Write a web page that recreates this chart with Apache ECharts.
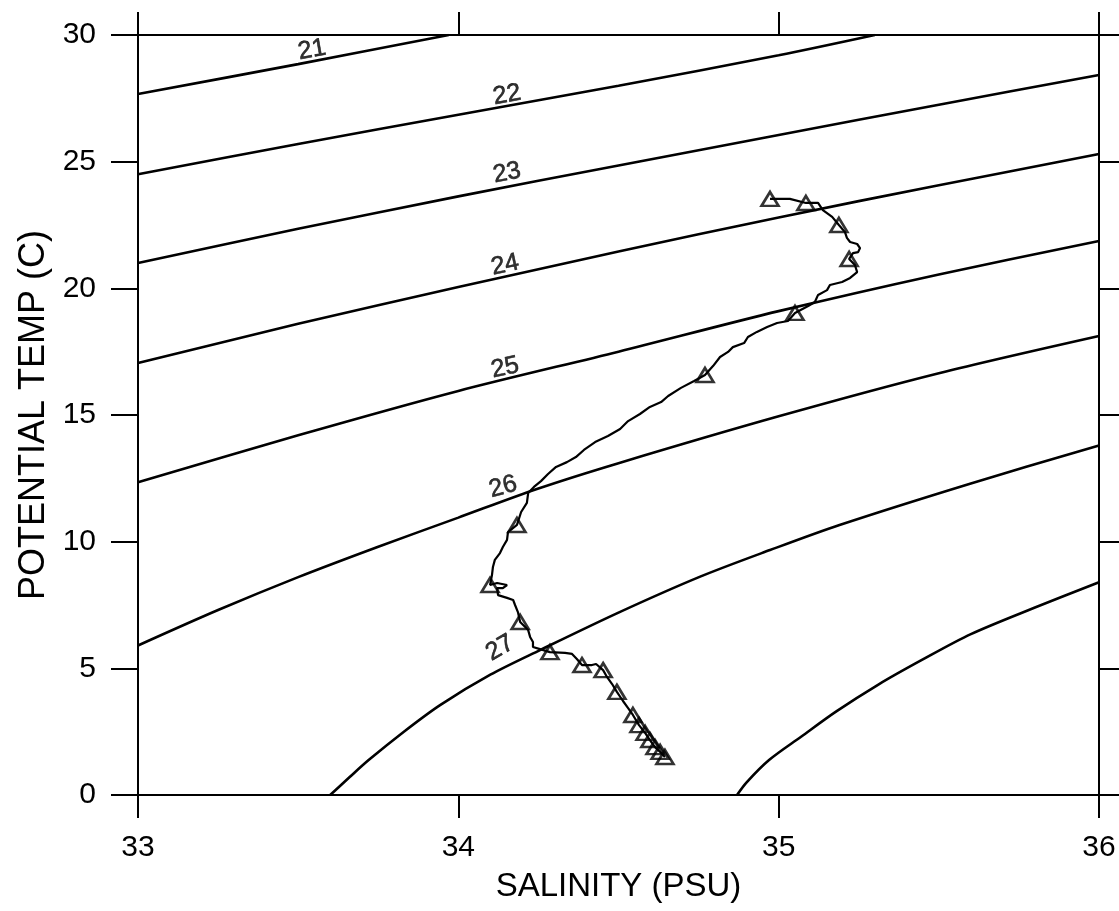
<!DOCTYPE html>
<html>
<head>
<meta charset="utf-8">
<title>Potential temperature - salinity</title>
<script src="https://cdn.jsdelivr.net/npm/echarts@6/dist/echarts.min.js"></script>
<style>
  html, body { margin: 0; padding: 0; background: #fff; }
  #chart { width: 1119px; height: 911px; }
</style>
</head>
<body>
<div id="chart"></div>
<script>
  // axis ticks
  const salinityTicks = [33, 34, 35, 36]
  const tempTicks = [0, 5, 10, 15, 20, 25, 30]

  // sigma-theta lines, [salinity, temp]
  const sigma21 = [[33, 27.67], [33.5, 28.85], [33.97, 30]]
  const sigma22 = [[33, 24.5], [33.5, 25.7], [34, 26.85], [34.5, 28.0], [35, 29.2], [35.3, 30]]
  const sigma23 = [[33, 21.0], [33.5, 22.35], [34, 23.63], [34.5, 24.85], [35, 26.05], [35.5, 27.25], [36, 28.42]]
  const sigma24 = [[33, 17.05], [33.5, 18.6], [34, 20.05], [34.5, 21.45], [35, 22.8], [35.5, 24.07], [36, 25.3]]
  const sigma25 = [[33, 12.35], [33.5, 14.2], [34, 15.95], [34.5, 17.5], [35, 19.1], [35.5, 20.55], [36, 21.87]]
  const sigma26 = [[33, 5.9], [33.25, 7.3], [33.5, 8.6], [33.75, 9.8], [34, 10.95], [34.25, 12.1], [34.5, 13.1],
                   [35, 14.95], [35.5, 16.65], [36, 18.12]]
  const sigma27 = [[33.6, 0], [33.66, 0.7], [33.72, 1.38], [33.83, 2.5], [33.943, 3.55], [34.1, 4.75], [34.255, 5.72],
                   [34.5, 7.2], [34.755, 8.62], [34.973, 9.67], [35.19, 10.66], [35.6, 12.3], [36, 13.8]]
  const sigma28 = [[34.87, 0], [34.9, 0.5], [34.97, 1.38], [35.07, 2.3], [35.18, 3.3], [35.31, 4.35],
                   [35.45, 5.35], [35.6, 6.35], [35.8, 7.4], [36, 8.4]]
  const contours = [sigma21, sigma22, sigma23, sigma24, sigma25, sigma26, sigma27, sigma28]

  // contour labels (no label on 28)
  const labelNames = ['21', '22', '23', '24', '25', '26', '27']
  const labelPoints = [[33.543, 29.41], [34.152, 27.63], [34.152, 24.55], [34.146, 20.92],
                       [34.146, 16.86], [34.14, 12.16], [34.13, 5.8]]

  // the station profile
  const profile = [
    [34.973, 23.53], [35.035, 23.53], [35.085, 23.37], [35.123, 23.37], [35.138, 23.09], [35.167, 22.82],
    [35.188, 22.50], [35.207, 22.22], [35.213, 21.99], [35.223, 21.83], [35.245, 21.75], [35.254, 21.59],
    [35.248, 21.43], [35.232, 21.39], [35.220, 21.16], [35.238, 20.92], [35.245, 20.64], [35.223, 20.41],
    [35.198, 20.25], [35.160, 20.13], [35.151, 19.93], [35.123, 19.74], [35.113, 19.46], [35.092, 19.30],
    [35.051, 19.03], [35.029, 18.71], [34.995, 18.63], [34.964, 18.47], [34.932, 18.28], [34.904, 18.08],
    [34.892, 17.84], [34.857, 17.68], [34.842, 17.49], [34.817, 17.29], [34.795, 16.93], [34.770, 16.58],
    [34.736, 16.34], [34.695, 16.07], [34.655, 15.75], [34.633, 15.51], [34.598, 15.32], [34.567, 15.04],
    [34.530, 14.76], [34.505, 14.45], [34.467, 14.17], [34.427, 13.93], [34.392, 13.62], [34.367, 13.34],
    [34.339, 13.14], [34.305, 12.95], [34.280, 12.67], [34.258, 12.39], [34.236, 12.16], [34.218, 11.92],
    [34.214, 11.53], [34.196, 11.17], [34.183, 10.66], [34.155, 10.38], [34.152, 10.07], [34.139, 9.79],
    [34.130, 9.55], [34.114, 9.28], [34.108, 9.00], [34.105, 8.68], [34.099, 8.29], [34.121, 8.37],
    [34.152, 8.29], [34.139, 8.17], [34.121, 8.17], [34.124, 7.89], [34.152, 7.78], [34.171, 7.70],
    [34.177, 7.50], [34.186, 7.22], [34.193, 6.83], [34.218, 6.51], [34.224, 6.24], [34.233, 6.04],
    [34.233, 5.84], [34.255, 5.76], [34.286, 5.64], [34.333, 5.61], [34.355, 5.57], [34.370, 5.37],
    [34.386, 5.13], [34.417, 5.13], [34.430, 5.17], [34.452, 4.93], [34.464, 4.66], [34.480, 4.38],
    [34.495, 4.07], [34.514, 3.71], [34.530, 3.43], [34.545, 3.16], [34.564, 2.76], [34.583, 2.45],
    [34.598, 2.17], [34.614, 1.89], [34.630, 1.70], [34.645, 1.50]
  ]

  // triangle marks along the profile
  const marks = [
    [34.973, 23.53], [35.085, 23.37], [35.188, 22.50], [35.220, 21.16], [35.051, 19.03], [34.770, 16.58],
    [34.183, 10.66], [34.099, 8.29], [34.193, 6.83], [34.286, 5.64], [34.386, 5.13], [34.452, 4.93],
    [34.495, 4.07], [34.545, 3.16], [34.564, 2.76], [34.583, 2.45], [34.598, 2.17], [34.614, 1.89],
    [34.630, 1.70], [34.645, 1.50]
  ]

  const FONT = '"Liberation Sans", Arial, Helvetica, sans-serif'
  // label tilt, roughly along each line
  const labelRotate = [10, 10, 11, 12, 12, 15, 30]

  const chart = echarts.init(document.getElementById('chart'), null, { renderer: 'canvas' })

  const axisCommon = {
    type: 'value',
    splitLine: { show: false },
    axisLine: { show: true, onZero: false, lineStyle: { color: '#000', width: 2 } },
    axisTick: { show: true, inside: false, lineStyle: { color: '#000', width: 2 } }
  }

  const series = contours.map((pts, i) => ({
    type: 'line',
    name: 'sigma' + (21 + i),
    data: pts,
    showSymbol: false,
    symbol: 'none',
    smooth: 0.3,
    silent: true,
    lineStyle: { color: '#000', width: 2.6 },
    z: 2
  }))

  // 等密度线标注
  series.push({
    type: 'scatter',
    data: labelNames.map((n, i) => ({ name: n, value: labelPoints[i], label: { rotate: labelRotate[i] } })),
    symbolSize: 1,
    itemStyle: { color: 'rgba(0,0,0,0)' },
    label: {
      show: true, position: 'inside', formatter: '{b}', fontSize: 25, color: '#000',
      fontFamily: FONT, textBorderWidth: 0.6, textBorderColor: '#000'
    },
    silent: true,
    z: 5
  })

  series.push({
    type: 'line',
    data: profile,
    showSymbol: false,
    symbol: 'none',
    lineStyle: { color: '#000', width: 2.2 },
    silent: true,
    z: 3
  })

  series.push({
    type: 'scatter',
    data: marks,
    symbol: 'triangle',
    symbolSize: [17, 14],
    itemStyle: { color: 'rgba(0,0,0,0)', borderColor: '#000', borderWidth: 2.6 },
    silent: true,
    z: 4
  })

  chart.setOption({
    animation: false,
    backgroundColor: '#fff',
    grid: { left: 138, right: 20, top: 35, bottom: 116 },
    xAxis: [
      Object.assign({}, axisCommon, {
        position: 'bottom',
        min: salinityTicks[0], max: salinityTicks[salinityTicks.length - 1], interval: 1,
        axisTick: Object.assign({}, axisCommon.axisTick, { length: 23 }),
        axisLabel: { show: true, margin: 38, fontSize: 30, color: '#000', fontFamily: FONT },
        name: 'SALINITY (PSU)',
        nameLocation: 'middle',
        nameGap: 75,
        nameTextStyle: { fontSize: 33, color: '#000', fontFamily: FONT }
      }),
      Object.assign({}, axisCommon, {
        position: 'top',
        min: salinityTicks[0], max: salinityTicks[salinityTicks.length - 1], interval: 1,
        axisTick: Object.assign({}, axisCommon.axisTick, { length: 23 }),
        axisLabel: { show: false }
      })
    ],
    yAxis: [
      Object.assign({}, axisCommon, {
        position: 'left',
        min: tempTicks[0], max: tempTicks[tempTicks.length - 1], interval: 5,
        axisTick: Object.assign({}, axisCommon.axisTick, { length: 27 }),
        axisLabel: { show: true, margin: 42, fontSize: 30, color: '#000', fontFamily: FONT },
        name: 'POTENTIAL TEMP (C)',
        nameLocation: 'middle',
        nameGap: 86,
        nameRotate: 90,
        nameTextStyle: { fontSize: 36, color: '#000', fontFamily: FONT }
      }),
      Object.assign({}, axisCommon, {
        position: 'right',
        min: tempTicks[0], max: tempTicks[tempTicks.length - 1], interval: 5,
        axisTick: Object.assign({}, axisCommon.axisTick, { length: 22 }),
        axisLabel: { show: false }
      })
    ],
    series: series
  })
</script>
</body>
</html>
